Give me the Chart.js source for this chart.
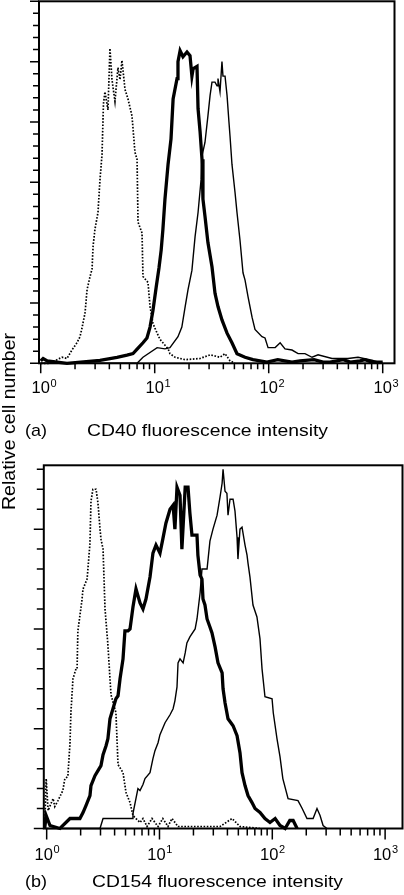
<!DOCTYPE html>
<html>
<head>
<meta charset="utf-8">
<title>CD40 / CD154 histograms</title>
<script src="https://cdn.jsdelivr.net/npm/chart.js"></script>
<style>
  html, body { margin: 0; padding: 0; background: #fff; }
  #wrap { position: relative; width: 404px; height: 895px; overflow: hidden; }
  canvas { position: absolute; left: 0; top: 0; }
</style>
</head>
<body>
<div id="wrap">
  <canvas id="panel_a" width="404" height="895"></canvas>
  <canvas id="panel_b" width="404" height="895"></canvas>
</div>
<script>
const FONT = '"Liberation Sans", Arial, Helvetica, sans-serif';

// x axis (log), same for both panels
const xTicks = [1, 2, 3, 4, 5, 6, 7, 8, 9, 10, 20, 30, 40, 50, 60, 70, 80, 90,
  100, 200, 300, 400, 500, 600, 700, 800, 900, 1000];
const xDecades = [1, 10, 100, 1000];
const xExponents = ['0', '1', '2', '3'];
const yLabel = 'Relative cell number';

// ---- panel (a): CD40 ----
const aTag = '(a)';
const aTitle = 'CD40 fluorescence intensity';
const aYTicks = [0, 10, 20, 30, 40, 50, 60, 70, 80, 90, 100, 110, 120, 130, 140, 150,
  160, 170, 180, 190, 200, 210, 220, 230, 240, 250, 260, 270, 280, 290, 300];
const aYMajor = [0, 50, 100, 150, 200, 250, 300];

// dotted (control)
const aCtrlX = [1.0, 1.2, 1.39, 1.54, 1.70, 1.88, 2.08, 2.21, 2.30, 2.45, 2.55, 2.71, 2.82, 2.88,
  2.99, 3.18, 3.31, 3.45, 3.55, 3.66, 3.89, 4.05, 4.22, 4.48, 4.76, 4.96, 5.16, 5.49, 5.83,
  6.32, 6.71, 7.0, 7.14, 7.74, 7.89, 8.73, 9.10, 9.66, 10.06, 10.5, 11.1, 11.8, 13.1, 13.6,
  15.1, 18.5, 25.0, 30.6, 37.4, 41.4, 45.8, 50.6];
const aCtrlY = [0, 0, 3, 5, 4, 11, 17, 22, 29, 42, 61, 72, 78, 97,
  111, 125, 152, 173, 215, 225, 210, 261, 235, 217, 245, 235, 251, 227, 219,
  205, 175, 169, 117, 108, 72, 67, 47, 33, 29, 25, 20, 17, 12, 8,
  5, 3, 4, 7, 5, 8, 2, 0];

// thick
const aThickX = [1.0, 1.05, 1.14, 1.70, 3.31, 4.67, 5.71, 6.45, 7.14, 7.89, 8.55, 9.10, 9.66,
  10.3, 10.9, 11.4, 11.8, 12.3, 13.1, 13.9, 14.5, 15.7, 16.0, 16.7, 17.7, 19.2, 20.4, 21.2,
  21.7, 23.5, 24.0, 25.0, 26.0, 26.5, 27.6, 29.3, 31.8, 33.8, 35.9, 38.9, 43.1, 47.6, 52.7,
  62.0, 72.8, 96.6, 120, 160, 188, 250, 300, 345, 450, 520, 632, 700, 800, 1000];
const aThickY = [2, 4, 2, 0, 2.5, 5, 6.7, 8, 12.5, 17, 21, 30, 44,
  63, 79, 94, 111, 136, 165, 186, 219, 236, 250, 259, 254, 258, 255, 238,
  244, 246, 211, 192, 169, 136, 122, 100, 80, 58, 47, 36, 25, 17, 8,
  5, 3, 1, 3, 1, 2, 3, 1, 1, 3, 1, 2, 3, 1, 1];

// thin
const aThinX = [1.0, 7.0, 7.89, 10.5, 12.3, 13.6, 16.0, 17.3, 18.5, 19.6, 21.2, 22.6, 24.0,
  25.5, 26.0, 27.6, 29.3, 30.6, 31.8, 33.8, 35.2, 35.9, 37.4, 38.9, 39.7, 41.4, 43.1, 44.8,
  45.8, 47.6, 50.6, 52.7, 56.0, 59.5, 62.0, 65.9, 71.5, 75.8, 87.3, 92.8, 98.7, 114, 126,
  139, 160, 181, 208, 240, 271, 359, 495, 607, 805, 1000];
const aThinY = [0, 0, 5, 13, 12, 13, 22, 30, 47, 61, 77, 105, 125,
  152, 172, 183, 205, 222, 233, 233, 230, 236, 225, 250, 238, 238, 222, 200,
  188, 165, 142, 125, 102, 75, 69, 55, 38, 28, 22, 21, 13, 13, 17,
  12, 11, 8, 8, 5, 7, 4, 4, 5, 2.5, 0];

// ---- panel (b): CD154 ----
const bTag = '(b)';
const bTitle = 'CD154 fluorescence intensity';
const bYTicks = [0, 10, 20, 30, 40, 50, 60, 70, 80, 90, 100, 110, 120, 130, 140, 150,
  160, 170, 180];
const bYMajor = [0, 50, 100, 150];

const bCtrlX = [0.96, 0.99, 1.03, 1.14, 1.18, 1.26, 1.39, 1.45, 1.54, 1.61, 1.64, 1.71, 1.82,
  1.86, 1.89, 2.05, 2.10, 2.28, 2.32, 2.42, 2.47, 2.57, 2.74, 2.85, 2.97, 3.03, 3.16, 3.29,
  3.49, 3.64, 3.72, 4.11, 4.29, 4.75, 5.05, 5.48, 5.82, 6.19, 6.72, 7.14, 7.75, 8.58, 9.71,
  10.7, 11.9, 12.9, 14.6, 34.4, 44.0, 51.7, 77.8];
const bCtrlY = [0, 25, 9, 15, 11, 14, 19, 25, 26, 43, 58, 75, 80,
  80, 99, 114, 120, 125, 130, 143, 164, 170, 170, 163, 150, 145, 140, 110,
  92, 75, 67, 58, 32, 28, 18, 13, 6.5, 5, 3, 5, 1, 5, 1,
  5, 1, 5, 1, 1, 5, 1, 0];

const bThickX = [0.96, 0.99, 1.07, 1.31, 1.61, 1.97, 2.10, 2.23, 2.42, 2.47, 2.68, 2.85, 3.03,
  3.16, 3.36, 3.49, 3.64, 3.87, 4.11, 4.29, 4.47, 4.75, 4.94, 5.26, 5.48, 5.82, 6.19, 6.72,
  7.14, 7.59, 8.24, 8.75, 9.31, 10.1, 10.7, 11.4, 12.4, 13.2, 13.7, 14.3, 15.2, 15.8, 16.9,
  17.9, 18.6, 19.4, 21.5, 21.9, 22.9, 23.8, 24.3, 25.3, 26.4, 28.0, 29.2, 31.1, 33.0, 35.9,
  36.6, 38.1, 40.5, 44.9, 48.7, 51.7, 53.9, 57.3, 60.9, 66.1, 70.3, 77.8, 86.1, 95.4, 106,
  117, 130, 143, 153, 166];
const bThickY = [0, 6.5, 1.5, 0, 5, 5, 8, 11.5, 16.5, 21.5, 26.5, 29, 31.5,
  37, 41.5, 45, 55, 60, 65, 66.5, 75, 85, 99, 99, 100, 111, 120, 113,
  110, 115, 126, 138, 142, 138, 145, 153, 160, 162, 150, 171, 167, 140, 171,
  171, 158, 147, 147, 137, 127, 125, 115, 112, 105, 101, 98, 91, 83, 78,
  70, 63, 55, 51.5, 46.5, 38, 28, 21.5, 16.5, 13, 10, 8, 5, 3, 5,
  1.5, 0, 4, 4, 0];

const bThinX = [0.96, 2.97, 3.16, 3.87, 5.71, 5.82, 6.44, 6.72, 7.14, 7.44, 8.24, 8.75, 9.12,
  9.71, 10.1, 11.2, 12.4, 13.2, 13.7, 14.3, 14.6, 15.2, 16.2, 16.9, 17.5, 18.6, 20.7, 21.5,
  22.9, 23.8, 26.4, 28.0, 29.8, 32.4, 34.4, 35.9, 36.6, 38.1, 39.6, 40.5, 42.2, 44.9, 46.7,
  48.7, 49.6, 51.7, 53.9, 57.3, 59.7, 60.9, 63.4, 67.4, 73.1, 77.8, 81.1, 86.1, 99.5, 102,
  110, 117, 124, 138, 169, 184, 203, 230, 249, 265, 282, 305];
const bThinY = [0, 0, 5, 5, 5, 7.5, 20, 19, 22, 25, 28, 35, 39,
  43, 47, 53, 57, 60, 64, 71, 83, 85, 83, 88, 93, 96, 100, 105,
  118, 130, 130, 144, 150, 157, 166, 173, 180, 169, 168, 157, 165, 165, 159,
  146, 135, 150, 151, 142, 137, 133, 126, 112, 106, 95, 80, 66, 65, 58,
  45, 36, 25, 15, 14, 10, 5, 5, 10, 6.5, 1.5, 0];

const lineStyles = {
  dotted: { borderWidth: 1.7, borderDash: [1.6, 1.6] },
  thick: { borderWidth: 3.3 },
  thin: { borderWidth: 1.4 }
};

function stretchText(ctx, text, left, base, width, font) {
  ctx.font = font;
  const w = ctx.measureText(text).width;
  ctx.save();
  ctx.translate(left, base);
  ctx.scale(width / w, 1);
  ctx.textAlign = 'left';
  ctx.fillText(text, 0, 0);
  ctx.restore();
}

function drawFrame(chart, p) {
  const ctx = chart.ctx;
  const a = chart.chartArea;
  const x = chart.scales.x, y = chart.scales.y;
  ctx.save();
  ctx.strokeStyle = '#000';
  ctx.fillStyle = '#000';
  ctx.lineWidth = 2;
  ctx.strokeRect(a.left, a.top, a.right - a.left, a.bottom - a.top);

  ctx.lineWidth = 1.5;
  ctx.beginPath();
  xTicks.forEach(v => {
    const px = x.getPixelForValue(v);
    const len = xDecades.includes(v) ? p.xMajorLen : p.xMinorLen;
    ctx.moveTo(px, a.bottom);
    ctx.lineTo(px, a.bottom + len);
  });
  p.yTicks.forEach(v => {
    const py = y.getPixelForValue(v);
    const len = p.yMajor.includes(v) ? p.yMajorLen : p.yMinorLen;
    ctx.moveTo(a.left, py);
    ctx.lineTo(a.left - len, py);
  });
  ctx.stroke();

  // decade labels 10^n
  ctx.textBaseline = 'alphabetic';
  xDecades.forEach((v, i) => {
    const cx = x.getPixelForValue(v) + p.labelShift;
    ctx.font = '16.5px ' + FONT;
    ctx.textAlign = 'center';
    ctx.fillText('10', cx, p.labelBase);
    ctx.font = '11px ' + FONT;
    ctx.textAlign = 'left';
    ctx.fillText(xExponents[i], cx + 9.8, p.labelBase - 6.6);
  });

  stretchText(ctx, p.tag, 25, p.captionBase, 22, '17px ' + FONT);
  stretchText(ctx, p.title, p.titleLeft, p.captionBase, p.titleWidth, '17px ' + FONT);

  if (p.yLabel) {
    ctx.save();
    ctx.translate(14.5, 421.5);
    ctx.rotate(-Math.PI / 2);
    ctx.font = '18px ' + FONT;
    const w = ctx.measureText(yLabel).width;
    ctx.scale(177 / w, 1);
    ctx.textAlign = 'center';
    ctx.fillText(yLabel, 0, 0);
    ctx.restore();
  }
  ctx.restore();
}

function makePanel(id, p) {
  return new Chart(document.getElementById(id), {
    type: 'line',
    data: {
      datasets: p.series.map(s => Object.assign({
        data: s.x.map((v, i) => ({ x: v, y: s.y[i] })),
        borderColor: '#000',
        backgroundColor: '#000',
        pointRadius: 0,
        tension: 0,
        fill: false,
        clip: false
      }, lineStyles[s.kind]))
    },
    options: {
      responsive: false,
      animation: false,
      devicePixelRatio: 1,
      layout: { padding: p.pad },
      scales: {
        x: { type: 'logarithmic', min: p.xMin, max: p.xMax, display: false },
        y: { type: 'linear', min: 0, max: p.yMax, display: false }
      },
      plugins: { legend: { display: false }, tooltip: { enabled: false } }
    },
    plugins: [{ id: 'frame', afterDatasetsDraw: chart => drawFrame(chart, p) }]
  });
}

makePanel('panel_a', {
  series: [
    { x: aCtrlX, y: aCtrlY, kind: 'dotted' },
    { x: aThinX, y: aThinY, kind: 'thin' },
    { x: aThickX, y: aThickY, kind: 'thick' }
  ],
  pad: { left: 39, top: 1.3, right: 9.5, bottom: 531.7 },
  xMin: 0.966, xMax: 1269, yMax: 300,
  yTicks: aYTicks, yMajor: aYMajor,
  xMajorLen: 10, xMinorLen: 6, yMajorLen: 9, yMinorLen: 6,
  labelShift: 0, labelBase: 393.3,
  tag: aTag, title: aTitle, titleLeft: 87, titleWidth: 241, captionBase: 435.5,
  yLabel: true
});

makePanel('panel_b', {
  series: [
    { x: bCtrlX, y: bCtrlY, kind: 'dotted' },
    { x: bThinX, y: bThinY, kind: 'thin' },
    { x: bThickX, y: bThickY, kind: 'thick' }
  ],
  pad: { left: 43.8, top: 465.3, right: 1.5, bottom: 66.5 },
  xMin: 0.943, xMax: 1426, yMax: 182,
  yTicks: bYTicks, yMajor: bYMajor,
  xMajorLen: 11, xMinorLen: 7, yMajorLen: 10, yMinorLen: 7,
  labelShift: -3, labelBase: 860,
  tag: bTag, title: bTitle, titleLeft: 92, titleWidth: 251, captionBase: 887,
  yLabel: false
});
</script>
</body>
</html>
